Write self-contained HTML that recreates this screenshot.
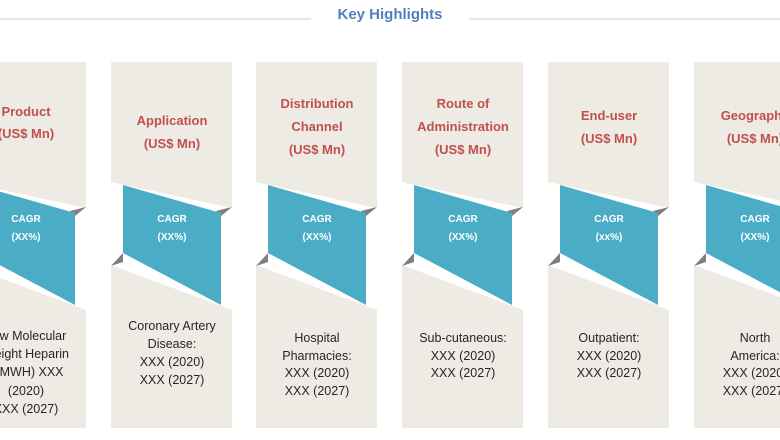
<!DOCTYPE html>
<html><head><style>body{margin:0;background:#fff}svg{display:block}</style></head><body>
<svg width="780" height="440" viewBox="0 0 780 440" xmlns="http://www.w3.org/2000/svg" font-family="Liberation Sans, sans-serif">
<line x1="0" y1="19" x2="311" y2="19" stroke="#d5dfea" stroke-width="1.5"/>
<line x1="469" y1="19" x2="780" y2="19" stroke="#d5dfea" stroke-width="1.5"/>
<text x="390" y="19" text-anchor="middle" font-size="15" font-weight="bold" fill="#4f81bd">Key Highlights</text>
<defs>
<g id="col">
<polygon points="0,62 121,62 121,208 0,182" fill="#eeebe4"/>
<polygon points="0,265 121,310 121,428 0,428" fill="#eeebe4"/>
<polygon points="105,211 121,207 110,216" fill="#7f7f7f"/>
<polygon points="0,266 12,253 12,262" fill="#7f7f7f"/>
<polygon points="12,185 110,213 110,305 12,253" fill="#4bacc6"/>
<text x="61" y="222" text-anchor="middle" font-size="10" font-weight="bold" fill="#fff">CAGR</text>
</g>
</defs>
<!-- col1 -->
<g transform="translate(-35,0)"><use href="#col"/>
<text x="61" y="240" text-anchor="middle" font-size="10" font-weight="bold" fill="#fff">(XX%)</text>
<text x="61" y="116" text-anchor="middle" font-size="13" font-weight="bold" fill="#c0504d">Product</text>
<text x="61" y="138" text-anchor="middle" font-size="13" font-weight="bold" fill="#c0504d">(US$ Mn)</text>
<g font-size="12.5" fill="#262626" text-anchor="middle"><text x="61" y="340">Low Molecular</text><text x="61" y="358">Weight Heparin</text><text x="61" y="376">(LMWH) XXX</text><text x="61" y="395">(2020)</text><text x="61" y="413">XXX (2027)</text></g></g>
<!-- col2 -->
<g transform="translate(111,0)"><use href="#col"/>
<text x="61" y="240" text-anchor="middle" font-size="10" font-weight="bold" fill="#fff">(XX%)</text>
<text x="61" y="125" text-anchor="middle" font-size="13" font-weight="bold" fill="#c0504d">Application</text>
<text x="61" y="148" text-anchor="middle" font-size="13" font-weight="bold" fill="#c0504d">(US$ Mn)</text>
<g font-size="12.5" fill="#262626" text-anchor="middle"><text x="61" y="330">Coronary Artery</text><text x="61" y="348">Disease:</text><text x="61" y="366">XXX (2020)</text><text x="61" y="384">XXX (2027)</text></g></g>
<!-- col3 -->
<g transform="translate(256,0)"><use href="#col"/>
<text x="61" y="240" text-anchor="middle" font-size="10" font-weight="bold" fill="#fff">(XX%)</text>
<text x="61" y="108" text-anchor="middle" font-size="13" font-weight="bold" fill="#c0504d">Distribution</text>
<text x="61" y="131" text-anchor="middle" font-size="13" font-weight="bold" fill="#c0504d">Channel</text>
<text x="61" y="154" text-anchor="middle" font-size="13" font-weight="bold" fill="#c0504d">(US$ Mn)</text>
<g font-size="12.5" fill="#262626" text-anchor="middle"><text x="61" y="342">Hospital</text><text x="61" y="360">Pharmacies:</text><text x="61" y="377">XXX (2020)</text><text x="61" y="395">XXX (2027)</text></g></g>
<!-- col4 -->
<g transform="translate(402,0)"><use href="#col"/>
<text x="61" y="240" text-anchor="middle" font-size="10" font-weight="bold" fill="#fff">(XX%)</text>
<text x="61" y="108" text-anchor="middle" font-size="13" font-weight="bold" fill="#c0504d">Route of</text>
<text x="61" y="131" text-anchor="middle" font-size="13" font-weight="bold" fill="#c0504d">Administration</text>
<text x="61" y="154" text-anchor="middle" font-size="13" font-weight="bold" fill="#c0504d">(US$ Mn)</text>
<g font-size="12.5" fill="#262626" text-anchor="middle"><text x="61" y="342">Sub-cutaneous:</text><text x="61" y="360">XXX (2020)</text><text x="61" y="377">XXX (2027)</text></g></g>
<!-- col5 -->
<g transform="translate(548,0)"><use href="#col"/>
<text x="61" y="240" text-anchor="middle" font-size="10" font-weight="bold" fill="#fff">(xx%)</text>
<text x="61" y="120" text-anchor="middle" font-size="13" font-weight="bold" fill="#c0504d">End-user</text>
<text x="61" y="143" text-anchor="middle" font-size="13" font-weight="bold" fill="#c0504d">(US$ Mn)</text>
<g font-size="12.5" fill="#262626" text-anchor="middle"><text x="61" y="342">Outpatient:</text><text x="61" y="360">XXX (2020)</text><text x="61" y="377">XXX (2027)</text></g></g>
<!-- col6 -->
<g transform="translate(694,0)"><use href="#col"/>
<text x="61" y="240" text-anchor="middle" font-size="10" font-weight="bold" fill="#fff">(XX%)</text>
<text x="61" y="120" text-anchor="middle" font-size="13" font-weight="bold" fill="#c0504d">Geography</text>
<text x="61" y="143" text-anchor="middle" font-size="13" font-weight="bold" fill="#c0504d">(US$ Mn)</text>
<g font-size="12.5" fill="#262626" text-anchor="middle"><text x="61" y="342">North</text><text x="61" y="360">America:</text><text x="61" y="377">XXX (2020)</text><text x="61" y="395">XXX (2027)</text></g></g>
</svg>
</body></html>
